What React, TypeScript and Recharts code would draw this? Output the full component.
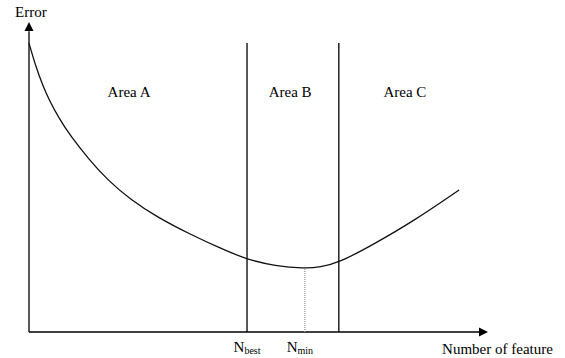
import React from 'react';
import { LineChart, Line, XAxis, YAxis, ReferenceLine, ReferenceDot } from 'recharts';

// feature count (x) and error (y), both on a 0-100 scale
const featureCount = [0, 1.5, 3, 4.5, 6.5, 9, 13, 17, 22, 28, 35, 42, 47.5, 53.6, 60.1, 63.4, 67.5, 75.2, 83.7, 93.7];
const errorValues = [93.2, 85.5, 79.5, 74.5, 69.0, 63.3, 55.8, 49.2, 42.8, 37.0, 31.6, 26.8, 23.4, 21.3, 20.5, 20.9, 22.3, 28.4, 35.7, 45.8];

const areaNames = ['Area A', 'Area B', 'Area C'];
const nBest = 47.5;
const nMin = 60.1;
const nUpper = 67.5;
const tickNames = ['best', 'min'];

const data = featureCount.map((x, i) => ({ x, error: errorValues[i] }));

const FONT = '"Liberation Serif", "Times New Roman", serif';

const TextMark = (label: string, anchor: 'start' | 'middle' | 'end' = 'middle') => (props: any) => (
  <text x={props.cx} y={props.cy} textAnchor={anchor} fontFamily={FONT} fontSize={15} fill="#000">
    {label}
  </text>
);

const NTick = (props: any) => {
  const { x, y, payload } = props;
  const sub = payload.value === nBest ? tickNames[0] : tickNames[1];
  const shift = payload.value === nBest ? 0 : -5;
  return (
    <text x={x + shift} y={y + 12} textAnchor="middle" fontFamily={FONT} fontSize={15} fill="#000">
      N<tspan fontSize={10} dy={2}>{sub}</tspan>
    </text>
  );
};

const App: React.FC = () => {
  return (
    <div style={{ position: 'absolute', left: 0, top: 0, background: '#fff' }}>
      <LineChart width={565} height={358} data={data} margin={{ top: 22, right: 77, bottom: 0, left: 29 }}>
        <XAxis
          type="number"
          dataKey="x"
          domain={[0, 100]}
          ticks={[nBest, nMin]}
          tick={<NTick />}
          axisLine={false}
          tickLine={false}
          height={26}
          interval={0}
        />
        <YAxis type="number" domain={[0, 100]} hide />

        {/* axes */}
        <ReferenceLine segment={[{ x: 0, y: 0 }, { x: 98.5, y: 0 }]} stroke="#000" strokeWidth={1.3} ifOverflow="visible" />
        <ReferenceLine segment={[{ x: 0, y: 0 }, { x: 0, y: 97 }]} stroke="#000" strokeWidth={1.3} ifOverflow="visible" />
        <ReferenceDot
          x={100}
          y={0}
          ifOverflow="visible"
          shape={(p: any) => <polygon points={`${p.cx},${p.cy} ${p.cx - 9},${p.cy - 4.5} ${p.cx - 9},${p.cy + 4.5}`} fill="#000" />}
        />
        <ReferenceDot
          x={0}
          y={100}
          ifOverflow="visible"
          shape={(p: any) => <polygon points={`${p.cx},${p.cy} ${p.cx - 4.5},${p.cy + 9} ${p.cx + 4.5},${p.cy + 9}`} fill="#000" />}
        />

        {/* area boundaries */}
        <ReferenceLine segment={[{ x: nBest, y: 0 }, { x: nBest, y: 93.2 }]} stroke="#000" strokeWidth={1.3} />
        <ReferenceLine segment={[{ x: nUpper, y: 0 }, { x: nUpper, y: 93.2 }]} stroke="#000" strokeWidth={1.3} />
        <ReferenceLine segment={[{ x: nMin, y: 0 }, { x: nMin, y: 20.5 }]} stroke="#999" strokeWidth={1.3} strokeDasharray="1 1" />

        <Line type="basis" dataKey="error" stroke="#111" strokeWidth={1.3} dot={false} isAnimationActive={false} />

        {/* texts */}
        <ReferenceDot x={21.8} y={75.8} ifOverflow="visible" shape={TextMark(areaNames[0])} />
        <ReferenceDot x={56.9} y={75.8} ifOverflow="visible" shape={TextMark(areaNames[1])} />
        <ReferenceDot x={81.9} y={75.8} ifOverflow="visible" shape={TextMark(areaNames[2])} />
        <ReferenceDot x={0.4} y={101.6} ifOverflow="visible" shape={TextMark('Error')} />
        <ReferenceDot x={90} y={-7.2} ifOverflow="visible" shape={TextMark('Number of feature', 'start')} />
      </LineChart>
    </div>
  );
};

export default App;
